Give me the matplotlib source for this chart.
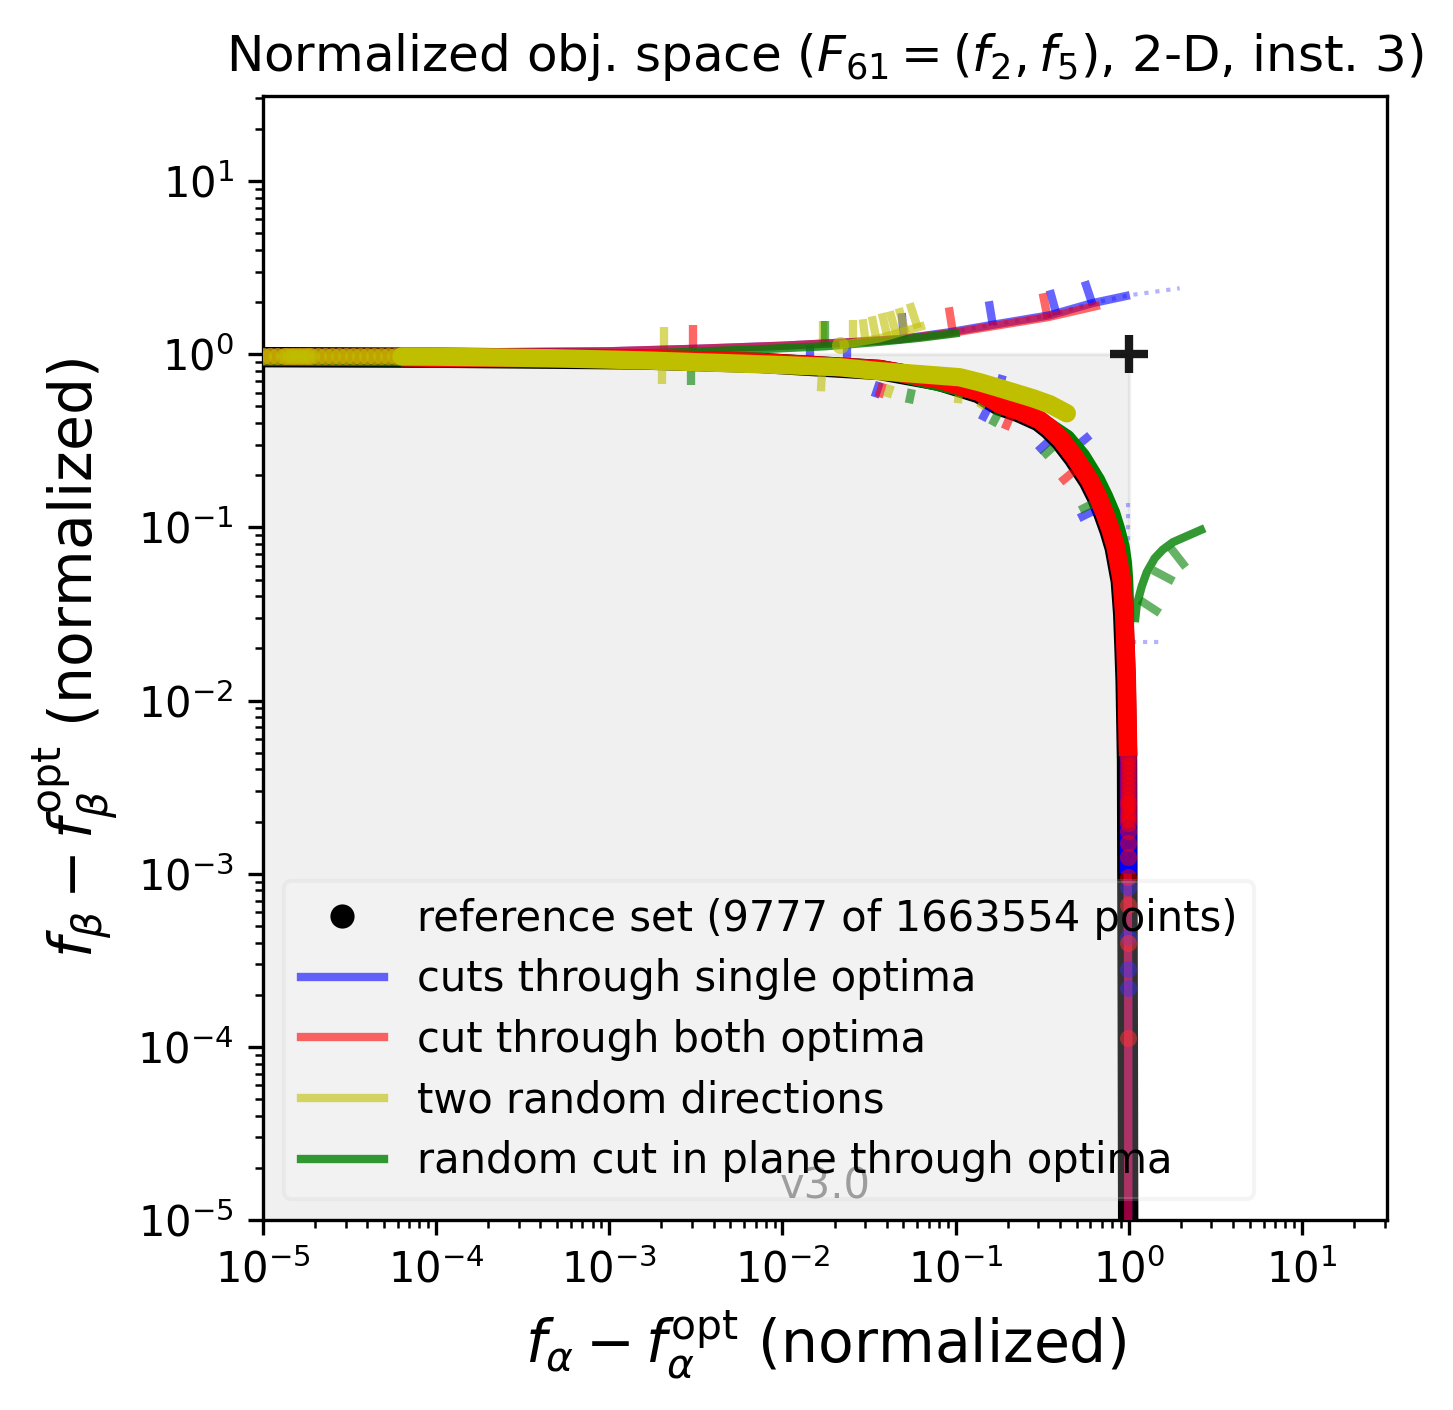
import numpy as np
import matplotlib
matplotlib.use('Agg')
import matplotlib.pyplot as plt
from matplotlib.patches import Rectangle

# all curve values are log10 of the normalized objective values
ref_logx = [-5.0, -4.0, -2.823, -2.131, -1.438, -1.097, -0.866, -0.751, -0.635, -0.520, -0.462, -0.393, -0.318, -0.231, -0.185, -0.145, -0.110, -0.081, -0.064, -0.046, -0.032, -0.025, -0.018, -0.010, -0.006, -0.003]
ref_logy = [-0.017, -0.020, -0.030, -0.050, -0.091, -0.153, -0.225, -0.295, -0.335, -0.387, -0.433, -0.503, -0.601, -0.734, -0.826, -0.924, -1.022, -1.120, -1.213, -1.311, -1.501, -1.686, -1.888, -2.350, -3.730, -5.2]

red_logx = [-4.2, -4.0, -2.823, -2.131, -1.438, -1.091, -0.860, -0.745, -0.629, -0.514, -0.456, -0.387, -0.312, -0.225, -0.179, -0.139, -0.104, -0.075, -0.058, -0.040, -0.026, -0.019, -0.012, -0.005, -0.003]
red_logy = [-0.017, -0.020, -0.026, -0.046, -0.087, -0.147, -0.219, -0.289, -0.329, -0.381, -0.427, -0.497, -0.595, -0.728, -0.820, -0.918, -1.016, -1.114, -1.207, -1.305, -1.495, -1.680, -1.882, -2.258, -2.320]

blue_logx = [-5.0, -4.0, -2.823, -2.131, -1.438, -1.094, -0.863, -0.748, -0.632, -0.517, -0.459, -0.390, -0.315, -0.228, -0.182, -0.142, -0.107, -0.078, -0.061, -0.043, -0.029, -0.022, -0.014, -0.004, -0.003]
blue_logy = [-0.017, -0.020, -0.028, -0.048, -0.089, -0.150, -0.222, -0.292, -0.332, -0.384, -0.430, -0.500, -0.598, -0.731, -0.823, -0.921, -1.019, -1.117, -1.210, -1.308, -1.498, -1.683, -1.885, -2.347, -3.000]

green_logx = [-5.0, -2.823, -1.438, -0.860, -0.514, -0.358, -0.270, -0.185, -0.140, -0.098, -0.068, -0.043, -0.030, -0.023, -0.017, -0.017]
green_logy = [-0.017, -0.026, -0.087, -0.219, -0.381, -0.485, -0.590, -0.728, -0.820, -0.918, -1.016, -1.114, -1.207, -1.305, -1.495, -1.547]

yellow_logx = [-4.2, -4.0, -3.343, -2.823, -2.131, -1.669, -1.438, -1.207, -0.976, -0.860, -0.745, -0.554, -0.456, -0.358]
yellow_logy = [-0.013, -0.014, -0.023, -0.035, -0.058, -0.075, -0.098, -0.115, -0.133, -0.162, -0.196, -0.254, -0.289, -0.341]

# sparse points at the ends of the front
column_dots_logx = -0.003
red_dots_logy = [-2.320, -2.344, -2.373, -2.402, -2.431, -2.460, -2.489, -2.517, -2.546, -2.575, -2.593, -2.610, -2.636, -2.662, -2.685, -2.708, -2.754, -2.823, -2.904, -3.020, -3.181, -3.401, -3.949]
blue_dots_logy = [-3.078, -3.366, -3.551, -3.661]
left_dots_logx = [-5.0, -4.96, -4.92, -4.88, -4.86, -4.84, -4.82, -4.80, -4.78, -4.76, -4.74, -4.72, -4.68, -4.64, -4.60, -4.56, -4.52, -4.48, -4.44, -4.40, -4.36, -4.32, -4.28, -4.24, -4.20]
left_dots_logy = [-0.012] * 25

# cuts running through the extreme points
blue_top_logx = [-5.0, -4.0, -3.002, -2.477, -2.004, -1.553, -1.322, -1.034, -0.803, -0.456, -0.214, 0.006]
blue_top_logy = [0.0, 0.009, 0.017, 0.032, 0.049, 0.072, 0.087, 0.127, 0.167, 0.225, 0.294, 0.341]
red_top_logx = [-5.0, -4.0, -3.002, -2.477, -2.004, -1.553, -1.322, -1.034, -0.803, -0.468, -0.167]
red_top_logy = [0.0, 0.009, 0.017, 0.032, 0.049, 0.072, 0.087, 0.121, 0.159, 0.214, 0.283]
green_top_logx = [-5.0, -2.823, -2.442, -2.131, -1.755, -1.438, -1.207, -0.976]
green_top_logy = [-0.012, 0.003, 0.017, 0.029, 0.046, 0.072, 0.095, 0.124]
yellow_top_logx = [-1.669, -1.438, -1.178]
yellow_top_logy = [0.052, 0.092, 0.167]
green_right_logx = [0.035, 0.046, 0.075, 0.104, 0.150, 0.195, 0.254, 0.439]
green_right_logy = [-1.547, -1.449, -1.340, -1.259, -1.178, -1.130, -1.086, -1.005]
column_logx = [-0.040, -0.012, -0.003, -0.003]
column_logy = [-1.305, -1.882, -3.730, -5.2]

dots_top_logx = [-1.034, -0.803, -0.456, -0.214, 0.006, 0.294]
dots_top_logy = [0.127, 0.167, 0.225, 0.294, 0.341, 0.381]
dots_vert_logx = [-0.006, -0.006]
dots_vert_logy = [-0.860, -1.189]
dots_low_logx = [0.017, 0.196]
dots_low_logy = [-1.663, -1.663]

# short marks along the cuts: x0, y0, x1, y1
blue_ticks = [(-1.842, 0.052, -1.842, -0.017), (-1.628, 0.069, -1.628, -0.023), (-1.311, 0.237, -1.299, 0.092),
              (-0.808, 0.306, -0.785, 0.167), (-0.456, 0.370, -0.416, 0.225), (-0.254, 0.421, -0.208, 0.283),
              (-1.438, -0.162, -1.467, -0.248), (-0.814, -0.312, -0.849, -0.381), (-0.728, -0.121, -0.745, -0.179),
              (-0.225, -0.468, -0.294, -0.525), (-0.468, -0.508, -0.525, -0.560), (-0.196, -0.901, -0.289, -0.947)]
red_ticks = [(-2.517, 0.167, -2.517, 0.023), (-1.039, 0.271, -1.016, 0.127), (-0.497, 0.352, -0.468, 0.208),
             (-1.420, -0.167, -1.444, -0.248), (-0.687, -0.364, -0.716, -0.433), (-0.323, -0.681, -0.393, -0.739)]
yellow_ticks = [(-2.685, 0.156, -2.685, 0.029), (-1.767, 0.191, -1.767, 0.046), (-2.696, -0.081, -2.696, -0.173),
                (-1.773, -0.121, -1.778, -0.214), (-1.374, -0.179, -1.397, -0.248), (-0.982, -0.237, -0.987, -0.283),
                (-0.843, -0.283, -0.860, -0.312), (-1.594, 0.052, -1.594, 0.196), (-1.519, 0.064, -1.536, 0.202),
                (-1.455, 0.075, -1.484, 0.219), (-1.392, 0.092, -1.426, 0.237), (-1.340, 0.104, -1.380, 0.248),
                (-1.288, 0.121, -1.328, 0.266), (-1.218, 0.150, -1.265, 0.294)]
green_ticks = [(-1.755, 0.191, -1.755, 0.046), (-2.529, -0.081, -2.529, -0.179), (-1.253, -0.202, -1.270, -0.283),
               (-0.751, -0.335, -0.791, -0.410), (-0.439, -0.537, -0.497, -0.589), (-0.214, -0.866, -0.283, -0.901),
               (0.064, -1.420, 0.179, -1.495), (0.139, -1.247, 0.260, -1.311), (0.243, -1.120, 0.329, -1.230)]

legend_labels = ['reference set (9777 of 1663554 points)', 'cuts through single optima', 'cut through both optima',
                 'two random directions', 'random cut in plane through optima']

DOT = 4.08
BAND = 4.5


def exp10(values):
    return 10.0 ** np.asarray(values)


def draw(ax, logx, logy, **kwargs):
    return ax.plot(exp10(logx), exp10(logy), **kwargs)


def draw_ticks(ax, ticks, color, alpha):
    for x0, y0, x1, y1 in ticks:
        draw(ax, [x0, x1], [y0, y1], color=color, lw=2, alpha=alpha, solid_capstyle='butt', zorder=3)


fig = plt.figure(figsize=(1453 / 300, 1410 / 300), dpi=300)
ax = fig.add_axes([263 / 1453, 190 / 1410, 1124 / 1453, 1124 / 1410])
ax.set_xscale('log')
ax.set_yscale('log')
ax.set_xlim(1e-5, 31)
ax.set_ylim(1e-5, 31)

# region of interest and the nadir point
ax.add_patch(Rectangle((1e-5, 1e-5), 1 - 1e-5, 1 - 1e-5, facecolor='k', edgecolor='k', lw=0.8, alpha=0.06, zorder=1))
ax.plot([1], [1], '+', color='k', ms=9, mew=2, alpha=0.9, zorder=8)

# the front itself
draw(ax, ref_logx, ref_logy, color='k', lw=4.9, solid_capstyle='butt', zorder=2)
draw(ax, column_logx, column_logy, color='b', lw=2, alpha=0.6, solid_capstyle='butt', zorder=3)
draw(ax, column_logx, column_logy, color='r', lw=2, alpha=0.6, solid_capstyle='butt', zorder=3)

draw_ticks(ax, blue_ticks, 'b', 0.6)
draw_ticks(ax, red_ticks, 'r', 0.6)
draw_ticks(ax, yellow_ticks, 'y', 0.6)
draw_ticks(ax, green_ticks, 'g', 0.6)

draw(ax, dots_top_logx, dots_top_logy, color='b', lw=1, ls=':', alpha=0.3, zorder=3)
draw(ax, dots_vert_logx, dots_vert_logy, color='b', lw=1, ls=':', alpha=0.3, zorder=3)
draw(ax, dots_low_logx, dots_low_logy, color='b', lw=1, ls=':', alpha=0.3, zorder=3)

draw(ax, blue_top_logx, blue_top_logy, color='b', lw=2, alpha=0.6, solid_capstyle='butt', zorder=4)
draw(ax, red_top_logx, red_top_logy, color='r', lw=2, alpha=0.6, solid_capstyle='butt', zorder=4)
draw(ax, green_top_logx, green_top_logy, color='g', lw=2, alpha=0.8, solid_capstyle='butt', zorder=4)
draw(ax, green_right_logx, green_right_logy, color='g', lw=2, alpha=0.8, solid_capstyle='butt', zorder=4)
draw(ax, yellow_top_logx, yellow_top_logy, color='y', lw=2, alpha=0.6, solid_capstyle='butt', zorder=4)
ax.plot(exp10(yellow_top_logx[:1]), exp10(yellow_top_logy[:1]), 'o', color='y', ms=DOT, mew=0, alpha=0.6, zorder=4)

draw(ax, blue_logx, blue_logy, color='b', lw=DOT, solid_capstyle='butt', zorder=5)
draw(ax, green_logx, green_logy, color='g', lw=DOT, solid_capstyle='round', zorder=5)
draw(ax, red_logx, red_logy, color='r', lw=BAND, solid_capstyle='butt', zorder=6)
ax.plot(np.full(len(blue_dots_logy), 10.0 ** column_dots_logx), exp10(blue_dots_logy), 'o', color='b', ms=DOT, mew=0, alpha=0.45, zorder=6)
ax.plot(np.full(len(red_dots_logy), 10.0 ** column_dots_logx), exp10(red_dots_logy), 'o', color='r', ms=DOT, mew=0, alpha=0.5, zorder=6)
ax.plot(exp10(left_dots_logx), exp10(left_dots_logy), 'o', color='r', ms=DOT, mew=0, alpha=0.5, zorder=6)
draw(ax, yellow_logx, yellow_logy, color='y', lw=4.4, solid_capstyle='round', zorder=7)
ax.plot(exp10(left_dots_logx), exp10(left_dots_logy), 'o', color='y', ms=DOT, mew=0, alpha=0.6, zorder=7)

# legend proxies, the real marks above carry no labels
handles = [
    plt.Line2D([], [], color='k', marker='o', ls='', ms=4.8),
    plt.Line2D([], [], color='b', lw=2, alpha=0.6),
    plt.Line2D([], [], color='r', lw=2, alpha=0.6),
    plt.Line2D([], [], color='y', lw=2, alpha=0.6),
    plt.Line2D([], [], color='g', lw=2, alpha=0.8),
]
leg = ax.legend(handles, legend_labels, loc='lower left', fontsize=10, framealpha=0.2, labelspacing=0.45)
leg.set_zorder(20)

ax.text(0.5, 0.011, 'v3.0', transform=ax.transAxes, ha='center', va='bottom', color='k', alpha=0.35, fontsize=10, zorder=21)

ax.set_title(r'Normalized obj. space ($F_{61} = (f_2, f_5)$, 2-D, inst. 3)', fontsize=12)
ax.set_xlabel(r'$f_\alpha - f^{\rm opt}_\alpha$ (normalized)', fontsize=14)
ax.set_ylabel(r'$f_\beta - f^{\rm opt}_\beta$ (normalized)', fontsize=14)
ax.tick_params(labelsize=10)

fig.savefig('out.png', dpi=300)
